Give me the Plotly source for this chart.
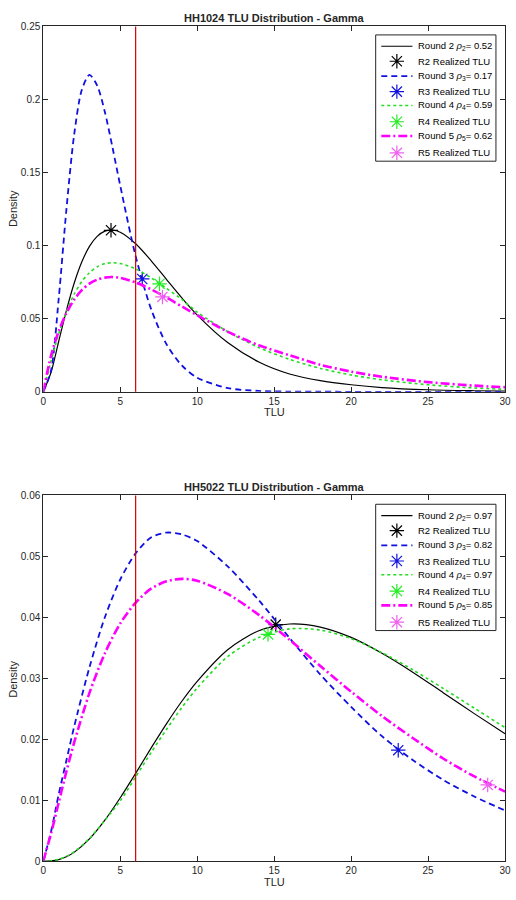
import plotly.graph_objects as go

# ---------------- data ----------------
x_top = [0, 0.5, 1, 1.5, 2, 2.5, 3, 3.5, 4, 4.5, 5, 6, 7, 8, 9, 10, 12, 14, 16, 18, 20, 22, 25, 28, 30]
top_r2 = [0, 0.0132, 0.0344, 0.0556, 0.0741, 0.0888, 0.0995, 0.1063, 0.1099, 0.1106, 0.1092, 0.1013, 0.0898,
          0.0769, 0.0642, 0.0525, 0.0335, 0.0204, 0.0122, 0.0076, 0.0048, 0.0029, 0.0014, 0.0007, 0.0004]
top_r3 = [0, 0.0144, 0.0635, 0.1245, 0.1755, 0.2065, 0.2168, 0.2095, 0.1915, 0.1670, 0.1410, 0.0928, 0.0567,
          0.0326, 0.0180, 0.0096, 0.0025, 0.0006, 0.00014, 0.00003, 0, 0, 0, 0, 0]
top_r4 = [0, 0.0209, 0.0396, 0.0548, 0.0666, 0.0754, 0.0815, 0.0855, 0.0877, 0.0883, 0.0878, 0.0841, 0.0780,
          0.0708, 0.0632, 0.0545, 0.0410, 0.0303, 0.0222, 0.0160, 0.0115, 0.0082, 0.0048, 0.0026, 0.0017]
top_r5 = [0, 0.0246, 0.0414, 0.0538, 0.0630, 0.0695, 0.0740, 0.0767, 0.0781, 0.0785, 0.0779, 0.0748, 0.0701,
          0.0645, 0.0584, 0.0524, 0.0410, 0.0318, 0.0250, 0.0185, 0.0138, 0.0103, 0.0066, 0.0042, 0.0031]
top_real_x = [4.40, 6.43, 7.55, 7.74]
top_real_y = [0.1105, 0.0772, 0.0739, 0.0649]
top_rho = ["0.52", "0.17", "0.59", "0.62"]

x_bot = [0, 0.5, 1, 1.5, 2, 3, 4, 5, 6, 7, 8, 9, 10, 12, 14, 16, 18, 20, 22, 24, 26, 28, 30]
bot_r2 = [0, 0.00004, 0.00026, 0.00072, 0.00144, 0.00365, 0.00672, 0.0104, 0.0144, 0.01854, 0.02253, 0.02623,
          0.0295, 0.03473, 0.0378, 0.0389, 0.0384, 0.0367, 0.0341, 0.0310, 0.0276, 0.0242, 0.0209]
bot_r3 = [0, 0.0048, 0.01095, 0.0165, 0.0220, 0.0318, 0.0400, 0.0462, 0.0505, 0.0531, 0.0539, 0.0536, 0.0525,
          0.0483, 0.0428, 0.0366, 0.0306, 0.0253, 0.0205, 0.0166, 0.0133, 0.0106, 0.0083]
bot_r4 = [0, 0.00005, 0.00029, 0.00078, 0.00152, 0.00374, 0.0067, 0.0099, 0.0138, 0.0178, 0.0216, 0.0252, 0.0284,
          0.0336, 0.0367, 0.0381, 0.0379, 0.0365, 0.0342, 0.0314, 0.0283, 0.0251, 0.0219]
bot_r5 = [0, 0.0045, 0.0096, 0.0147, 0.0194, 0.0276, 0.0341, 0.0390, 0.0424, 0.0447, 0.0459, 0.0463, 0.0460,
          0.0438, 0.0404, 0.0363, 0.0320, 0.0278, 0.0238, 0.0202, 0.0168, 0.0139, 0.0114]
bot_real_x = [15.1, 23.06, 14.6, 28.87]
bot_real_y = [0.0388, 0.0182, 0.0372, 0.0125]
bot_rho = ["0.97", "0.82", "0.97", "0.85"]

threshold = 6
rounds = [2, 3, 4, 5]
titles = ["HH1024 TLU Distribution - Gamma", "HH5022 TLU Distribution - Gamma"]

# ---------------- styles ----------------
line_colors = ["#000000", "#1010e0", "#22dd22", "#ff00ff"]
marker_colors = ["#000000", "#1010e0", "#22ee22", "#f060f0"]
line_dash = ["solid", "6px,4px", "dot", "9px,3px,2px,3px"]
line_width = [1.2, 1.8, 1.6, 2.6]

FONT = "Liberation Sans, Arial, Helvetica, sans-serif"
W, H = 516, 900
x0, x1 = 41 / W, 511 / W
dom_top = [(H - 391) / H, (H - 20.7) / H]
dom_bot = [(H - 866.7) / H, (H - 496) / H]

# legend geometry (pixels)
LEG_LEFT, LEG_W, LEG_H = 379.3, 122.4, 128
LEG_TOPS = [29.3, 505]
ROW_Y = [11.5, 26.7, 41.7, 57.5, 71.5, 88, 102.5, 119.5]
SAMPLE_X = [5.7, 37.4]
TEXT_X = 41.2

fig = go.Figure()

panels = [
    (x_top, [top_r2, top_r3, top_r4, top_r5], top_real_x, top_real_y, top_rho, "x", "y", "x3", "y3", LEG_TOPS[0]),
    (x_bot, [bot_r2, bot_r3, bot_r4, bot_r5], bot_real_x, bot_real_y, bot_rho, "x2", "y2", "x4", "y4", LEG_TOPS[1]),
]

for xs, curves, rx, ry, rho, xa, ya, lxa, lya, ltop in panels:
    for i, r in enumerate(rounds):
        line = dict(color=line_colors[i], width=line_width[i], dash=line_dash[i])
        mk = dict(symbol="asterisk-open", size=12, color=marker_colors[i],
                  line=dict(color=marker_colors[i], width=1.2))
        fig.add_trace(go.Scatter(
            x=xs, y=curves[i], mode="lines", xaxis=xa, yaxis=ya, showlegend=False,
            line=dict(shape="spline", smoothing=0.8, **line),
            name=f"Round {r} ρ{r}= {rho[i]}",
        ))
        fig.add_trace(go.Scatter(
            x=[rx[i]], y=[ry[i]], mode="markers", xaxis=xa, yaxis=ya, showlegend=False,
            marker=mk, name=f"R{r} Realized TLU",
        ))
        # legend key (drawn on an invisible overlay axis measured in pixels)
        row_l = ROW_Y[2 * i]
        row_m = ROW_Y[2 * i + 1]
        fig.add_trace(go.Scatter(x=SAMPLE_X, y=[row_l, row_l], mode="lines", xaxis=lxa, yaxis=lya,
                                 line=line, showlegend=False, hoverinfo="skip"))
        fig.add_trace(go.Scatter(x=[sum(SAMPLE_X) / 2], y=[row_m], mode="markers", xaxis=lxa, yaxis=lya,
                                 marker=mk, showlegend=False, hoverinfo="skip"))
        for txt, row in [(f"Round {r} <i>ρ</i><sub>{r}</sub>= {rho[i]}", row_l), (f"R{r} Realized TLU", row_m)]:
            fig.add_annotation(text=txt, x=(LEG_LEFT + TEXT_X) / W, y=(H - ltop - row) / H,
                               xref="paper", yref="paper", showarrow=False, xanchor="left", yanchor="middle",
                               font=dict(family=FONT, size=9.5, color="#000000"))

axis_common = dict(
    showline=True, linecolor="#262626", linewidth=1, mirror="ticks", ticks="inside", ticklen=5,
    tickcolor="#262626", showgrid=False, zeroline=False, ticklabeloverflow="allow",
    tickfont=dict(family=FONT, size=10, color="#262626"),
)
hidden = dict(visible=False, showgrid=False, zeroline=False, fixedrange=True)

leg_axes = {}
for k, top in enumerate(LEG_TOPS):
    xa_name, ya_name = ("xaxis3", "yaxis3") if k == 0 else ("xaxis4", "yaxis4")
    xa_id, ya_id = ("x3", "y3") if k == 0 else ("x4", "y4")
    leg_axes[xa_name] = dict(domain=[LEG_LEFT / W, (LEG_LEFT + LEG_W) / W], range=[0, LEG_W],
                             anchor=ya_id, **hidden)
    leg_axes[ya_name] = dict(domain=[(H - top - LEG_H) / H, (H - top) / H], range=[LEG_H, 0],
                             anchor=xa_id, **hidden)
    fig.add_shape(type="rect", xref="paper", yref="paper",
                  x0=LEG_LEFT / W, x1=(LEG_LEFT + LEG_W) / W,
                  y0=(H - top - LEG_H) / H, y1=(H - top) / H,
                  line=dict(color="#262626", width=1), fillcolor="rgba(0,0,0,0)", layer="above")

fig.update_layout(
    width=W, height=H, margin=dict(l=0, r=0, t=0, b=0),
    paper_bgcolor="white", plot_bgcolor="rgba(0,0,0,0)",
    font=dict(family=FONT, color="#262626"),
    showlegend=False,
    xaxis=dict(domain=[x0, x1], anchor="y", range=[0, 30], tickvals=[0, 5, 10, 15, 20, 25, 30], **axis_common),
    yaxis=dict(domain=dom_top, anchor="x", range=[0, 0.25], tickvals=[0, 0.05, 0.1, 0.15, 0.2, 0.25],
               ticktext=["0", "0.05", "0.1", "0.15", "0.2", "0.25"], **axis_common),
    xaxis2=dict(domain=[x0, x1], anchor="y2", range=[0, 30], tickvals=[0, 5, 10, 15, 20, 25, 30], **axis_common),
    yaxis2=dict(domain=dom_bot, anchor="x2", range=[0, 0.06], tickvals=[0, 0.01, 0.02, 0.03, 0.04, 0.05, 0.06],
                ticktext=["0", "0.01", "0.02", "0.03", "0.04", "0.05", "0.06"], **axis_common),
    **leg_axes,
)

# threshold lines
for xa, ya in [("x", "y"), ("x2", "y2")]:
    fig.add_shape(type="line", xref=xa, yref=f"{ya} domain", x0=threshold, x1=threshold, y0=0, y1=1,
                  line=dict(color="#d40000", width=1.2), layer="above")

# titles and axis labels
annots = [
    dict(text=f"<b>{titles[0]}</b>", x=276 / W, y=(H - 12) / H, size=11),
    dict(text=f"<b>{titles[1]}</b>", x=276 / W, y=(H - 487) / H, size=11),
    dict(text="TLU", x=276 / W, y=(H - 411) / H, size=11),
    dict(text="TLU", x=276 / W, y=(H - 888) / H, size=11),
]
for a in annots:
    fig.add_annotation(text=a["text"], x=a["x"], y=a["y"], xref="paper", yref="paper", showarrow=False,
                       xanchor="center", yanchor="middle", font=dict(family=FONT, size=a["size"], color="#262626"))
for yc in [205, 682]:
    fig.add_annotation(text="Density", x=10 / W, y=(H - yc) / H, xref="paper", yref="paper", showarrow=False,
                       textangle=-90, xanchor="center", yanchor="middle",
                       font=dict(family=FONT, size=11, color="#262626"))

fig.write_html("out.html")
